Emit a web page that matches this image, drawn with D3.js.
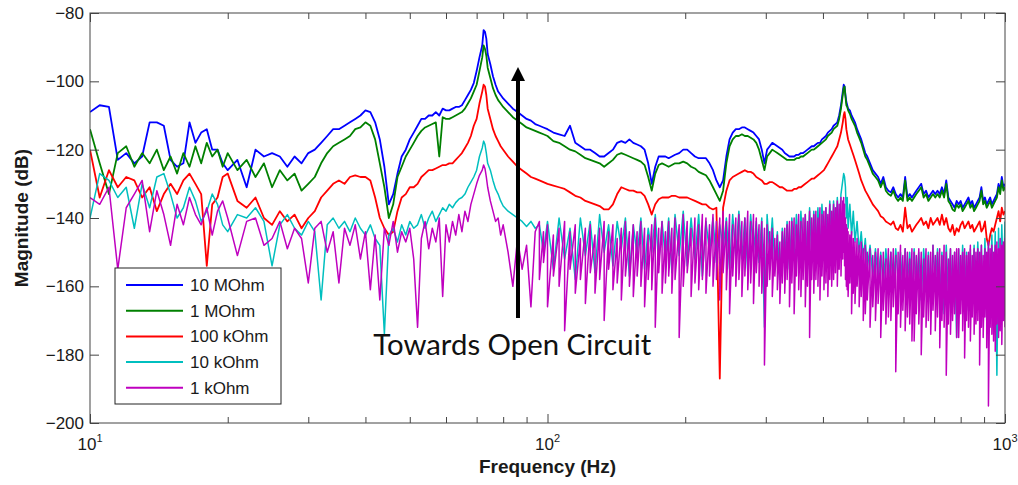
<!DOCTYPE html>
<html>
<head>
<meta charset="utf-8">
<script src="https://cdn.jsdelivr.net/npm/d3@7"></script>
<style>
  body { margin: 0; background: #fff; }
  text { font-family: "Liberation Sans", Arial, sans-serif; fill: #1a1a1a; }
</style>
</head>
<body>
<svg id="chart"></svg>
<script>
// frequency bins (Hz), shared by all traces
var freqs = [10,10.5,11,11.5,12,12.5,13,13.5,14,14.5,
  15,15.5,16,16.5,17,17.5,18,18.5,19,19.5,
  20,21,22,23,24,25,26,27,28,29,
  30,31,32,33,34,35,36,37,38,39,
  40,41,42,43,44,45,46,47,48,49,
  50,51,52,53,54,55,56,57,58,59,
  60,61,62,63,64,65,66,67,68,69,
  70,71,72,72.5,73,73.5,74,75,76,77,
  78,79,80,82,84,86,88,90,92,94,
  96,98,100,103,106,109,112,115,118,121,
  124,127,130,133,136,139,142,145,148,151,
  154,157,160,163,166,169,172,175,178,181,
  184,187,190,194,198,202,206,210,214,218,
  222,226,230,234,238,242,246,250,254,258,
  262,266,270,274,278,282,286,290,294,298,
  302,306,310,314,318,322,326,330,334,338,
  342,346,350,354,358,362,366,370,374,378,
  382,386,390,394,398,402,406,410,414,418,
  422,426,430,434,438,442,444,446,448,450,
  452,454,458,462,466,470,475,480,485,490,
  495,500,507,514,521,528,535,542,549,556,
  563,570,577,584,591,598,605,612,619,626,
  633,640,648,656,664,672,680,688,696,704,
  712,720,728,736,744,752,760,768,776,784,
  792,800,808,816,824,832,840,848,856,864,
  872,880,888,896,904,912,920,928,936,944,
  952,960,968,976,984,992,1000];

// magnitude (dB), 10 MOhm
var mag10M = [-109,-107,-107.5,-123,-121,-124,-122,-112,-112,-113,
  -123,-125,-124,-112,-118,-115,-114,-120,-120,-124,
  -126,-123,-131,-120,-122,-121,-122,-125,-122,-124,
  -121,-120,-118,-116,-114,-114,-113,-112,-111,-110,
  -108.5,-109,-112,-117,-125,-136,-133,-127,-122,-120,
  -117,-115,-113,-111,-111,-110,-110,-109,-110,-108,
  -108.5,-108.5,-108,-107.5,-107.5,-107,-105.5,-104,-102.5,-100.5,
  -97,-93,-89.5,-85,-85.5,-87.5,-92,-95,-98.5,-101,
  -103,-104,-105,-106.5,-108,-109,-110,-111,-111.5,-112.5,
  -113,-113.5,-114,-115,-115.5,-116,-113,-118,-119,-120,
  -120,-121,-122,-122,-121,-120,-118,-117.5,-118,-117,
  -118,-118.5,-119,-120,-124,-130,-125,-122,-122,-122,
  -122.5,-122,-121.5,-121,-120,-120,-121,-122,-122.5,-122.5,
  -122.5,-124,-126,-129,-131,-129,-122,-117,-115,-114,
  -114,-113.5,-113.5,-114,-114.5,-115,-116,-117,-120,-124,
  -120,-119,-118,-118.5,-119,-119.5,-120,-121,-121.5,-122,
  -122,-122,-121.5,-121.5,-121,-121,-120.5,-120,-119.5,-119,
  -119,-118.5,-118,-118,-117,-116.5,-116,-115,-114.5,-114,
  -113,-112.5,-112,-110,-107,-103,-101,-101.5,-104,-106,
  -107,-108,-108.5,-110,-111,-112,-114,-115.5,-117,-119,
  -121,-122,-124,-126,-127,-128,-130,-128,-131,-132,
  -132.5,-131,-133,-134,-133,-134,-128,-134,-133,-134,
  -133,-132,-131,-130,-133,-132,-134,-133,-132,-133,
  -132,-133,-131,-133,-129,-134,-135,-136,-137,-135,
  -136,-135,-137,-136,-135,-134,-136,-135,-137,-136,
  -135,-134,-131,-135,-134,-136,-135,-134,-136,-135,
  -134,-133,-130,-132,-128,-131,-130];

// magnitude (dB), 1 MOhm
var mag1M = [-114,-124,-133,-121,-119,-125,-121,-124,-120,-126,
  -122,-127,-121,-125,-119,-124,-118,-122,-120,-125,
  -121,-126,-123,-128,-124,-131,-126,-129,-127,-132,
  -130,-128,-124,-121,-119,-118,-117,-116,-114,-113.5,
  -112,-113,-117,-124,-131,-140,-136,-128,-125,-122,
  -120,-118,-116,-114.5,-113.5,-113,-112.5,-112,-122,-110.5,
  -111,-111,-110.5,-110,-109.5,-109,-108,-106.5,-105,-103,
  -101,-97,-93,-89.5,-90.5,-92.5,-96,-99,-102,-104,
  -105.5,-106.5,-107.5,-109,-110.5,-111.5,-112.5,-113.5,-114,-114.5,
  -115,-115.5,-116,-117.5,-118,-119,-120,-120.5,-121.5,-122.5,
  -123,-123.5,-124,-125,-124,-123,-121.5,-121,-121.5,-122,
  -122.5,-123,-123.5,-124.5,-128,-132,-127,-124.5,-124,-124.5,
  -125,-124.5,-124,-124,-123.5,-124,-125,-125.5,-126.5,-127,
  -127.5,-129,-131,-133,-135,-132,-124,-119,-117,-116,
  -116,-115.5,-116,-116,-116.5,-117,-118,-120,-123,-126,
  -122,-121,-120,-120.5,-121,-121.5,-122,-122.5,-123,-123,
  -123,-123,-122.5,-122.5,-122,-122,-121.5,-121,-120.5,-120,
  -120,-119.5,-119,-118.5,-118,-117.5,-117,-116,-115.5,-115,
  -114,-113.5,-113,-111,-108,-104,-102,-101.5,-104.5,-107,
  -107.5,-108.5,-109.5,-111,-112,-113,-115,-116.5,-118,-120,
  -122,-123,-125,-127,-128,-129,-131,-129,-132,-133,
  -133.5,-132,-134,-135,-134,-135,-129,-135,-134,-135,
  -134,-133,-132,-131,-134,-133,-135,-134,-133,-134,
  -133,-134,-132,-134,-130,-135,-136,-137.5,-138,-136,
  -137,-136,-138,-137,-136,-135,-137,-136,-138,-137,
  -136,-135,-132,-136,-135,-137,-136,-135,-137,-136,
  -135,-134,-131,-133,-129,-132,-131];

// magnitude (dB), 100 kOhm
var mag100k = [-120,-134,-126,-131,-128,-129,-134,-131,-138,-133,
  -130,-133,-129,-127,-130,-133,-154,-136,-134,-128,
  -127,-135,-137,-134,-140,-142,-138,-141,-139,-143,
  -140,-138,-134,-132,-130,-129,-130,-128,-127.5,-128,
  -128,-129,-134,-140,-143,-145,-144,-138,-134,-133,
  -131,-131,-130,-128,-127,-126,-126,-125.5,-125,-124.5,
  -124.5,-124,-124,-123,-122,-121,-119.5,-118,-116,-113,
  -111,-106.5,-103,-101,-101.5,-104,-108,-111,-114,-116,
  -117.5,-119,-120,-122,-123.5,-125,-126,-127,-128,-128.5,
  -129,-129.5,-130,-130.5,-131,-131.5,-132.5,-133.5,-134,-135,
  -135.5,-136,-136.5,-137.5,-137.5,-136,-133,-131,-131.5,-132,
  -132,-132.5,-132.5,-133.5,-136,-139,-136,-134.5,-134,-134,
  -134,-133.5,-133.5,-134,-134,-134,-134.5,-135,-135.5,-136,
  -136,-137,-137.5,-137,-187,-137,-132,-129,-128,-127.5,
  -127,-126.5,-126,-126.5,-126.5,-127,-128,-128.5,-129,-130,
  -130,-129.5,-129.5,-130,-130.5,-131,-131,-131.5,-132,-132,
  -132,-131.5,-131.5,-131,-131,-130.5,-130,-129.5,-129,-128.5,
  -128.5,-128,-127.5,-127,-126.5,-126,-125,-124,-123,-122,
  -121,-120,-119,-117,-115,-112,-110,-109,-111,-114,
  -115.5,-117,-118.5,-120,-121.5,-123,-125,-127,-129,-130.5,
  -132,-133,-134.5,-136,-137,-138,-139.5,-140,-141,-141.5,
  -142,-141,-143,-143.5,-142,-144,-137,-143,-142,-144,
  -143,-142,-141,-140,-142,-141,-143,-140,-142,-141,
  -140,-142,-139,-142,-140,-143,-144,-142,-145,-143,
  -144,-142,-141,-143,-142,-141,-143,-142,-144,-143,
  -142,-141,-144,-143,-141,-146,-148,-145,-143,-144,
  -142,-140,-138,-141,-137,-139,-138];

// magnitude (dB), 10 kOhm
var mag10k = [-140,-127,-129,-134,-131,-143,-130,-137,-128,-127,
  -133,-140,-137,-131,-135,-141,-138,-133,-136,-142,
  -144,-139,-140,-137,-141,-154,-142,-139,-143,-145,
  -141,-144,-164,-142,-140,-143,-141,-144,-140,-143,
  -145,-142,-146,-148,-174,-145,-143,-147,-142,-145,
  -141,-143,-142,-139,-143,-140,-138,-141,-139,-137,
  -138,-136,-137,-135.5,-134.5,-134,-133,-131,-129.5,-128,
  -126,-122,-119.5,-117.5,-118.5,-121,-124,-126,-129,-131.5,
  -133,-135,-136.5,-138,-139,-140,-141,-142.5,-141,-143,
  -142,-150,-141,-155,-140,-152,-143,-158,-140,-151,
  -141,-156,-139,-150,-142,-154,-141,-149,-140,-157,
  -142,-151,-140,-155,-143,-150,-139,-153,-141,-152,
  -140,-156,-139,-151,-138,-154,-140,-152,-139,-157,
  -141,-150,-140,-153,-142,-149,-140,-155,-139,-151,
  -138,-152,-140,-156,-139,-150,-141,-153,-140,-172,
  -139,-151,-140,-154,-144,-158,-143,-152,-141,-155,
  -140,-151,-139,-153,-138,-150,-139,-155,-137,-151,
  -138,-149,-137,-152,-136,-148,-137,-150,-135,-147,
  -135,-146,-134,-144,-133,-129,-127,-128,-131,-140,
  -134,-143,-136,-145,-138,-147,-141,-150,-144,-152,
  -146,-155,-148,-157,-149,-158,-150,-160,-149,-159,
  -150,-161,-149,-158,-150,-162,-149,-159,-150,-163,
  -149,-160,-150,-164,-149,-161,-150,-165,-148,-160,
  -149,-163,-150,-168,-148,-162,-149,-166,-150,-175,
  -149,-164,-148,-162,-150,-167,-149,-163,-148,-165,
  -147,-162,-148,-166,-146,-170,-147,-163,-145,-168,
  -144,-186,-143,-165,-142,-160,-141];

// magnitude (dB), 1 kOhm (upper edge of the noise band from 96 Hz on)
var mag1k = [-134,-136,-131,-155,-137,-133,-129,-144,-132,-139,
  -148,-136,-142,-134,-139,-142,-137,-145,-138,-135,
  -140,-151,-141,-140,-148,-146,-141,-149,-143,-146,
  -159,-143,-141,-150,-144,-159,-143,-148,-142,-152,
  -144,-161,-145,-164,-143,-148,-141,-150,-144,-147,
  -143,-152,-172,-146,-141,-149,-143,-147,-140,-163,
  -142,-147,-141,-145,-139,-144,-138,-141,-136,-133,
  -130,-127.5,-126,-124.5,-125.5,-128,-131,-135,-138,-141,
  -140,-145,-142,-150,-160,-146,-155,-148,-166,-144,
  -141,-144,-142,-145,-143,-141,-144,-142,-146,-143,
  -142,-145,-143,-141,-144,-142,-146,-143,-141,-144,
  -142,-144,-141,-143,-145,-142,-140,-143,-141,-144,
  -141,-143,-140,-142,-139,-141,-143,-140,-142,-139,
  -140,-142,-139,-141,-140,-138,-141,-139,-142,-140,
  -139,-141,-140,-138,-141,-139,-140,-142,-141,-143,
  -142,-144,-143,-146,-145,-147,-144,-143,-142,-141,
  -141,-140,-142,-139,-141,-140,-139,-141,-138,-140,
  -139,-138,-140,-137,-139,-138,-137,-139,-136,-138,
  -136,-137,-135,-136,-134,-135,-134,-136,-140,-142,
  -143,-144,-145,-144,-146,-147,-146,-148,-147,-149,
  -148,-150,-149,-151,-150,-149,-151,-150,-152,-149,
  -150,-149,-151,-150,-148,-151,-149,-150,-152,-149,
  -150,-151,-149,-150,-152,-149,-151,-150,-148,-151,
  -150,-149,-151,-148,-150,-152,-149,-151,-150,-149,
  -149,-151,-150,-149,-151,-150,-148,-151,-149,-150,
  -149,-150,-148,-151,-149,-150,-147,-149,-148,-150,
  -148,-147,-149,-146,-148,-147,-146];

// magnitude (dB), 1 kOhm, lower edge of the noise band, bins from 96 Hz on
var mag1kLow = [-158,-153,-166,-157,-160,-173,-155,-162,-158,-165,
  -156,-162,-158,-170,-155,-161,-159,-164,-157,-160,
  -163,-157,-160,-166,-158,-161,-172,-156,-162,-159,
  -157,-162,-158,-175,-160,-156,-163,-159,-161,-158,
  -162,-157,-160,-158,-164,-156,-161,-168,-157,-160,
  -158,-163,-157,-161,-159,-165,-156,-160,-162,-183,
  -160,-158,-163,-157,-161,-165,-159,-162,-158,-166,
  -159,-168,-157,-161,-163,-158,-166,-160,-175,-158,
  -162,-158,-160,-164,-157,-161,-159,-163,-158,-160,
  -158,-156,-160,-155,-157,-152,-150,-154,-158,-160,
  -161,-163,-159,-168,-162,-165,-160,-166,-163,-170,
  -168,-164,-172,-166,-170,-165,-175,-167,-171,-169,
  -170,-166,-185,-168,-172,-167,-173,-169,-171,-176,
  -176,-168,-171,-180,-169,-172,-170,-174,-167,-173,
  -169,-178,-170,-172,-186,-171,-174,-170,-168,-175,
  -175,-168,-173,-181,-170,-172,-176,-169,-174,-171,
  -170,-183,-172,-175,-169,-178,-195,-172,-174,-176,
  -179,-171,-175,-173,-177,-170,-172];
var bandStart = 96; // Hz, first bin of mag1kLow

var seriesNames = ["10 MOhm", "1 MOhm", "100 kOhm", "10 kOhm", "1 kOhm"];
var seriesColors = ["#0000ff", "#008000", "#ff0000", "#00bfbf", "#bf00bf"];
var seriesValues = [mag10M, mag1M, mag100k, mag10k, mag1k];

var xMajor = [10, 100, 1000];
var xMinor = [20,30,40,50,60,70,80,90,200,300,400,500,600,700,800,900];
var yTicks = [-200,-180,-160,-140,-120,-100,-80];

// annotation arrow (Hz, dB)
var arrowFreq = 86.2;
var arrowFrom = -169.3;
var arrowTo = -95.8;
var noteText = "Towards Open Circuit";
var noteFreq = 41.6;
var noteDb = -180.2;

var svgWidth = 1018;
var svgHeight = 485;

var margin = {
  top: 13,
  right: 13,
  bottom: 62,
  left: 90
};

var width = svgWidth - margin.left - margin.right;
var height = svgHeight - margin.top - margin.bottom;

var svg = d3.select("#chart")
  .attr("width", svgWidth)
  .attr("height", svgHeight);

var chartGroup = svg.append("g")
  .attr("transform", `translate(${margin.left}, ${margin.top})`);

// scales
var xScale = d3.scaleLog()
  .domain([10, 1000])
  .range([0, width]);

var yScale = d3.scaleLinear()
  .domain([-200, -80])
  .range([height, 0]);

chartGroup.append("clipPath")
  .attr("id", "plotClip")
  .append("rect")
  .attr("width", width)
  .attr("height", height);

// build [freq, dB] point lists; the 1 kOhm trace runs top->bottom of its band in each bin
var bandIndex = freqs.indexOf(bandStart);
function tracePoints(vals, k) {
  var pts = [];
  vals.forEach(function(v, i) {
    if (v == null || freqs[i] == null) return;
    pts.push([freqs[i], v]);
    if (k === 4 && i >= bandIndex && mag1kLow[i - bandIndex] != null) {
      pts.push([freqs[i], mag1kLow[i - bandIndex]]);
    }
  });
  return pts;
}

var line = d3.line()
  .x(d => xScale(d[0]))
  .y(d => yScale(d[1]));

var traces = chartGroup.append("g").attr("clip-path", "url(#plotClip)");
seriesValues.forEach(function(vals, k) {
  traces.append("path")
    .attr("d", line(tracePoints(vals, k)))
    .attr("fill", "none")
    .attr("stroke", seriesColors[k])
    .attr("stroke-width", k < 3 ? 1.8 : 1.5)
    .attr("stroke-linejoin", "round");
});

// axes (MATLAB style, ticks inside)
function styleAxis(sel) {
  sel.select(".domain").remove();
  sel.selectAll(".tick line").attr("stroke", "#444");
  sel.selectAll(".tick text").attr("fill", "#1a1a1a").style("font-size", "17px");
}

chartGroup.append("g")
  .attr("transform", `translate(0, ${height})`)
  .call(d3.axisBottom(xScale).tickValues(xMajor).tickSizeInner(-9).tickSizeOuter(0).tickFormat(""))
  .call(styleAxis);
chartGroup.append("g")
  .attr("transform", `translate(0, ${height})`)
  .call(d3.axisBottom(xScale).tickValues(xMinor).tickSizeInner(-6).tickSizeOuter(0).tickFormat(""))
  .call(styleAxis);
chartGroup.append("g")
  .call(d3.axisTop(xScale).tickValues(xMajor).tickSizeInner(-9).tickSizeOuter(0).tickFormat(""))
  .call(styleAxis);
chartGroup.append("g")
  .call(d3.axisTop(xScale).tickValues(xMinor).tickSizeInner(-6).tickSizeOuter(0).tickFormat(""))
  .call(styleAxis);
chartGroup.append("g")
  .call(d3.axisLeft(yScale).tickValues(yTicks).tickSizeInner(-9).tickSizeOuter(0).tickPadding(6)
    .tickFormat(d => "\u2212" + Math.abs(d)))
  .call(styleAxis);
chartGroup.append("g")
  .attr("transform", `translate(${width}, 0)`)
  .call(d3.axisRight(yScale).tickValues(yTicks).tickSizeInner(-9).tickSizeOuter(0).tickFormat(""))
  .call(styleAxis);

// decade labels 10^n
xMajor.forEach(function(v) {
  var t = chartGroup.append("text")
    .attr("x", xScale(v))
    .attr("y", height + 27)
    .attr("text-anchor", "middle")
    .style("font-size", "17px")
    .text("10");
  t.append("tspan")
    .attr("dy", -8)
    .style("font-size", "11px")
    .text(Math.round(Math.log10(v)));
});

chartGroup.append("rect")
  .attr("width", width)
  .attr("height", height)
  .attr("fill", "none")
  .attr("stroke", "#444")
  .attr("stroke-width", 1);

// axis titles
chartGroup.append("text")
  .attr("x", width / 2)
  .attr("y", height + 50)
  .attr("text-anchor", "middle")
  .style("font-size", "19px")
  .style("font-weight", "bold")
  .text("Frequency (Hz)");

chartGroup.append("text")
  .attr("transform", `translate(${-62}, ${height / 2}) rotate(-90)`)
  .attr("text-anchor", "middle")
  .style("font-size", "19px")
  .style("font-weight", "bold")
  .text("Magnitude (dB)");

// legend
var legend = chartGroup.append("g").attr("transform", "translate(25, 255)");
legend.append("rect")
  .attr("width", 166)
  .attr("height", 136)
  .attr("fill", "#fff")
  .attr("stroke", "#222")
  .attr("stroke-width", 1);
seriesNames.forEach(function(name, k) {
  var yy = 17 + k * 25.7;
  legend.append("line")
    .attr("x1", 11).attr("x2", 68)
    .attr("y1", yy).attr("y2", yy)
    .attr("stroke", seriesColors[k])
    .attr("stroke-width", 2);
  legend.append("text")
    .attr("x", 75)
    .attr("y", yy + 6)
    .style("font-size", "17px")
    .text(name);
});

// arrow annotation
var ax = xScale(arrowFreq);
var yTip = yScale(arrowTo);
chartGroup.append("line")
  .attr("x1", ax).attr("x2", ax)
  .attr("y1", yScale(arrowFrom)).attr("y2", yTip + 10)
  .attr("stroke", "#000")
  .attr("stroke-width", 4);
chartGroup.append("path")
  .attr("d", `M${ax},${yTip} L${ax - 7},${yTip + 14} L${ax + 7},${yTip + 14} Z`)
  .attr("fill", "#000");

chartGroup.append("text")
  .attr("x", xScale(noteFreq))
  .attr("y", yScale(noteDb))
  .attr("textLength", 278)
  .attr("lengthAdjust", "spacingAndGlyphs")
  .style("font-family", "Lato, 'Open Sans', sans-serif")
  .style("font-size", "28px")
  .style("fill", "#111")
  .text(noteText);
</script>
</body>
</html>
